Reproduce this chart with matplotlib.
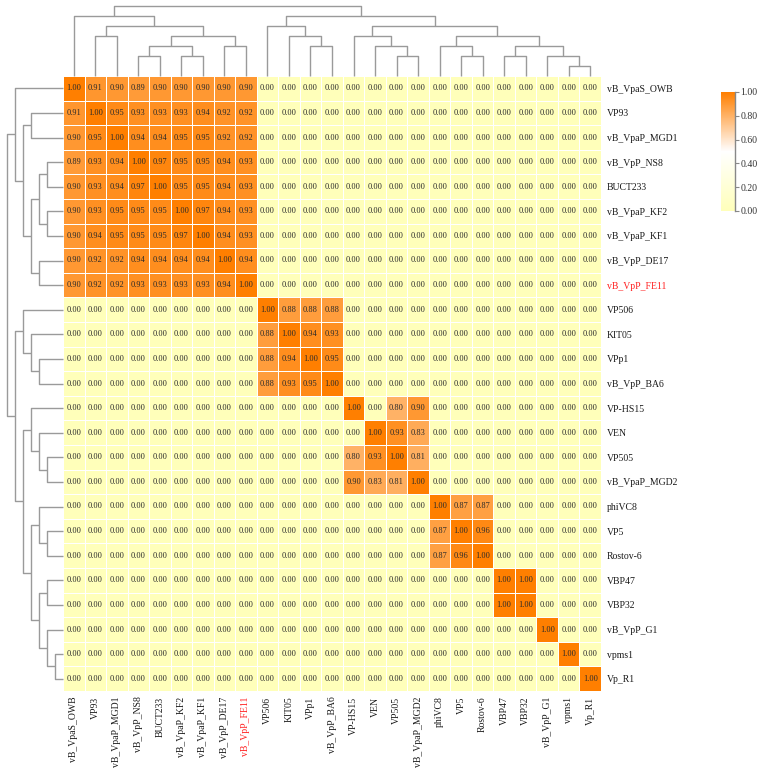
import numpy as np
import matplotlib
matplotlib.use("Agg")
import matplotlib.pyplot as plt
from matplotlib.colors import LinearSegmentedColormap

# ---------------- data ----------------
names = ['vB_VpaS_OWB', 'VP93', 'vB_VpaP_MGD1', 'vB_VpP_NS8', 'BUCT233',
         'vB_VpaP_KF2', 'vB_VpaP_KF1', 'vB_VpP_DE17', 'vB_VpP_FE11',
         'VP506', 'KIT05', 'VPp1', 'vB_VpP_BA6',
         'VP-HS15', 'VEN', 'VP505', 'vB_VpaP_MGD2',
         'phiVC8', 'VP5', 'Rostov-6',
         'VBP47', 'VBP32', 'vB_VpP_G1', 'vpms1', 'Vp_R1']
highlight = 'vB_VpP_FE11'

block_owb = [
    [1.00, 0.91, 0.90, 0.89, 0.90, 0.90, 0.90, 0.90, 0.90],
    [0.91, 1.00, 0.95, 0.93, 0.93, 0.93, 0.94, 0.92, 0.92],
    [0.90, 0.95, 1.00, 0.94, 0.94, 0.95, 0.95, 0.92, 0.92],
    [0.89, 0.93, 0.94, 1.00, 0.97, 0.95, 0.95, 0.94, 0.93],
    [0.90, 0.93, 0.94, 0.97, 1.00, 0.95, 0.95, 0.94, 0.93],
    [0.90, 0.93, 0.95, 0.95, 0.95, 1.00, 0.97, 0.94, 0.93],
    [0.90, 0.94, 0.95, 0.95, 0.95, 0.97, 1.00, 0.94, 0.93],
    [0.90, 0.92, 0.92, 0.94, 0.94, 0.94, 0.94, 1.00, 0.94],
    [0.90, 0.92, 0.92, 0.93, 0.93, 0.93, 0.93, 0.94, 1.00],
]
block_vp506 = [
    [1.00, 0.88, 0.88, 0.88],
    [0.88, 1.00, 0.94, 0.93],
    [0.88, 0.94, 1.00, 0.95],
    [0.88, 0.93, 0.95, 1.00],
]
block_hs15 = [
    [1.00, 0.00, 0.80, 0.90],
    [0.00, 1.00, 0.93, 0.83],
    [0.80, 0.93, 1.00, 0.81],
    [0.90, 0.83, 0.81, 1.00],
]
block_phivc8 = [
    [1.00, 0.87, 0.87],
    [0.87, 1.00, 0.96],
    [0.87, 0.96, 1.00],
]
block_vbp = [
    [1.00, 1.00],
    [1.00, 1.00],
]
block_g1 = [[1.00]]
block_vpms1 = [[1.00]]
block_vpr1 = [[1.00]]

blocks = [block_owb, block_vp506, block_hs15, block_phivc8, block_vbp,
          block_g1, block_vpms1, block_vpr1]

# dendrogram: [height, left, right]; ints are leaf indices
tree = [7,
        [6, 0, [5, [4, 1, 2], [4, [3, [2, 3, 4], [2, 5, 6]], [3, 7, 8]]]],
        [6, [5, 9, [4, 10, [3, 11, 12]]],
            [5, [4, 13, [3, 14, [2, 15, 16]]],
                [4, [3, 17, [2, 18, 19]],
                    [3, [2, 20, 21], [2, 22, [1, 23, 24]]]]]]]

cbar_ticks = [0.0, 0.2, 0.4, 0.6, 0.8, 1.0]

# ---------------- build matrix ----------------
n = len(names)
M = np.zeros((n, n))
k = 0
for b in blocks:
    b = np.array(b)
    s = b.shape[0]
    M[k:k + s, k:k + s] = b
    k += s

# ---------------- figure ----------------
W, H = 765, 776
fig = plt.figure(figsize=(W / 100, H / 100), dpi=100)
fig.patch.set_facecolor('white')

FONT = ['Liberation Serif', 'DejaVu Serif']

def fx(px):
    return px / W

def fy(py):
    return 1 - py / H

hx0, hx1, hy0, hy1 = 63, 601, 76, 691

cmap = LinearSegmentedColormap.from_list(
    'yo', [(0.0, '#FFFFBA'), (0.5, '#FFFFFF'), (1.0, '#FF7F00')])

ax = fig.add_axes([fx(hx0), fy(hy1), fx(hx1 - hx0), (hy1 - hy0) / H])
mesh = ax.pcolormesh(np.arange(n + 1), np.arange(n + 1), M, cmap=cmap,
                     vmin=0, vmax=1, edgecolors='white', linewidth=0.7)
ax.set_xlim(0, n)
ax.set_ylim(n, 0)
for i in range(n):
    for j in range(n):
        ax.text(j + 0.5, i + 0.5, f"{M[i, j]:.2f}", ha='center', va='center',
                fontsize=6, color='#2a2a2a', family=FONT)
ax.set_xticks(np.arange(n) + 0.5)
ax.set_yticks(np.arange(n) + 0.5)
ax.set_xticklabels(names, rotation=90, fontsize=7, family=FONT)
ax.set_yticklabels(names, fontsize=7, family=FONT)
ax.yaxis.tick_right()
ax.tick_params(length=0, pad=4)
for lab in ax.get_xticklabels() + ax.get_yticklabels():
    lab.set_color('#1a1a1a')
    if lab.get_text() == highlight:
        lab.set_color('#FF2020')
for sp in ax.spines.values():
    sp.set_visible(False)

# ---------------- dendrograms ----------------
LC = '#9a9a9a'
LW = 1.0

def draw(node, axd, orient):
    if isinstance(node, int):
        return node + 0.5, 0.0
    h, l, r = node
    pl, hl = draw(l, axd, orient)
    pr, hr = draw(r, axd, orient)
    xs = [pl, pl, pr, pr]
    ys = [hl, h, h, hr]
    if orient == 'top':
        axd.plot(xs, ys, color=LC, lw=LW, clip_on=False, solid_capstyle='butt')
    else:
        axd.plot(ys, xs, color=LC, lw=LW, clip_on=False, solid_capstyle='butt')
    return (pl + pr) / 2, h

axt = fig.add_axes([fx(hx0), fy(hy0), fx(hx1 - hx0), (hy0 - 6) / H])
draw(tree, axt, 'top')
axt.set_xlim(0, n)
axt.set_ylim(0, 7)
axt.axis('off')

axl = fig.add_axes([fx(7.3), fy(hy1), fx(hx0 - 7.3), (hy1 - hy0) / H])
draw(tree, axl, 'left')
axl.set_ylim(n, 0)
axl.set_xlim(7, 0)
axl.axis('off')

# ---------------- colorbar ----------------
cax = fig.add_axes([fx(721), fy(211), fx(14), 119 / H])
cb = fig.colorbar(mesh, cax=cax, ticks=cbar_ticks)
cb.outline.set_visible(False)
cb.ax.set_yticklabels([f"{t:.2f}" for t in cbar_ticks], fontsize=7,
                      family=FONT, color='#333333')
cb.ax.tick_params(length=3, width=0.8, color='#888888', pad=1)
cax.plot([1, 1], [0, 1], transform=cax.transAxes, color='#888888', lw=1,
         clip_on=False)

fig.savefig('out.png', dpi=100, facecolor='white')
